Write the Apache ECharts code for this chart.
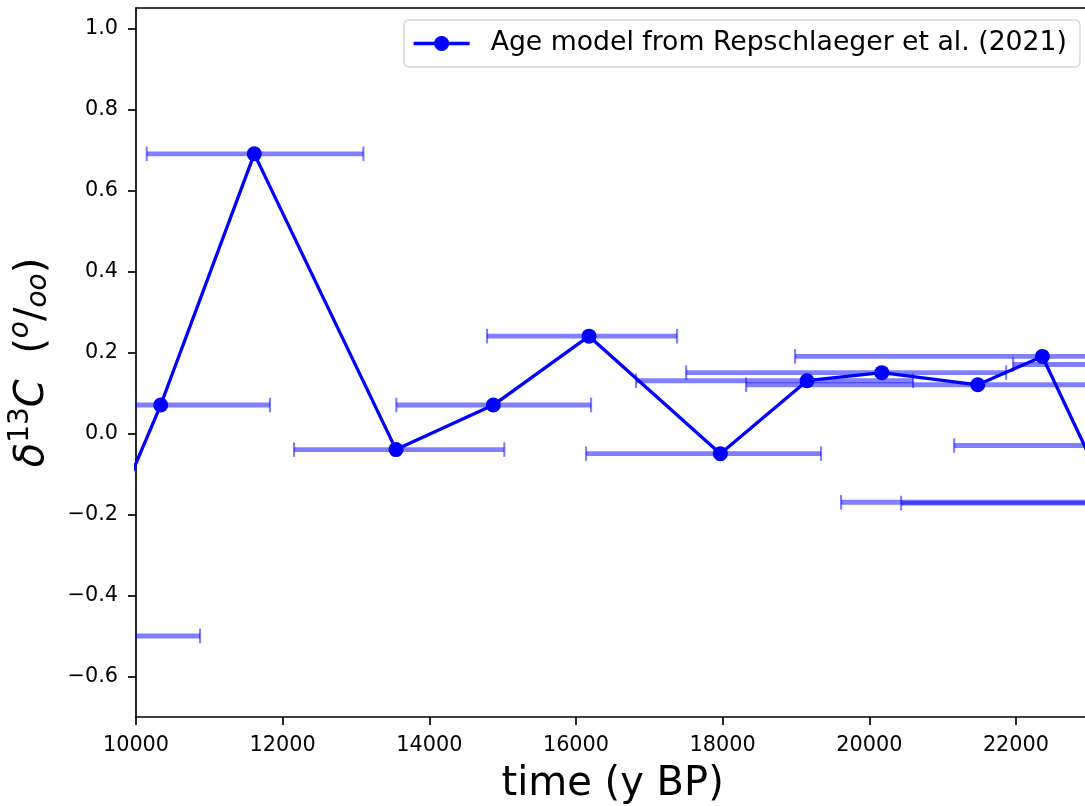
<!DOCTYPE html>
<html>
<head>
<meta charset="utf-8">
<script src="https://cdn.jsdelivr.net/npm/echarts@6/dist/echarts.min.js"></script>
<style>
html,body{margin:0;padding:0;background:#fff;}
#chart{width:1085px;height:806px;}
</style>
</head>
<body>
<div id="chart"></div>
<script>
// ---- data ----
const seriesName = 'Age model from Repschlaeger et al. (2021)';
const ageYears = [9000, 10337, 11613, 13546, 14873, 16178, 17969, 19151, 20170, 21479, 22360, 23300];
const d13C     = [-0.50, 0.07, 0.69, -0.04, 0.07, 0.24, -0.05, 0.13, 0.15, 0.12, 0.19, -0.17];

// horizontal error bars (age uncertainty): level, lower age, upper age
const errLevel = [-0.50, 0.07, 0.69, -0.04, 0.07, 0.24, -0.05, 0.13, 0.15, 0.12, 0.19, 0.17, -0.03, -0.170, -0.172];
const errLow   = [7870, 8830, 10146, 12155, 13550, 14787, 16137, 16819, 17501, 18320, 18988, 21961, 21157, 19615, 20434];
const errHigh  = [10873, 11827, 13101, 15023, 16206, 17378, 19342, 20597, 21866, 24600, 25700, 25100, 24300, 23400, 25000];

const xTicks = [10000, 12000, 14000, 16000, 18000, 20000, 22000];
const yTicks = [-0.6, -0.4, -0.2, 0.0, 0.2, 0.4, 0.6, 0.8, 1.0];

const xMin = 10000, xMax = 23000;
const yMin = -0.7, yMax = 1.05;

// ---- build ----
const FONT = 'DejaVu Sans';
const lineData = ageYears.map((x, i) => [x, d13C[i]]);
const errData = errLevel.map((y, i) => [errLow[i], errHigh[i], y]);
const errColor = 'rgba(0,0,255,0.5)';

const chart = echarts.init(document.getElementById('chart'), null, {renderer: 'canvas'});

const option = {
  animation: false,
  backgroundColor: '#ffffff',
  grid: {left: 136, top: 8, width: 953.3, height: 709, containLabel: false, outerBoundsMode: 'none'},
  legend: {
    data: [seriesName],
    left: 404, top: 20,
    itemWidth: 56, itemHeight: 19,
    padding: [10, 13, 10, 8],
    borderColor: '#d6d6d6', borderWidth: 1.5, borderRadius: 5,
    backgroundColor: 'rgba(255,255,255,0.8)',
    lineStyle: {width: 3.3, color: '#0000ff'},
    textStyle: {fontSize: 26.7, color: '#000', fontFamily: FONT, padding: [0, 0, 0, 16]}
  },
  xAxis: [{
    type: 'value', min: xMin, max: xMax, position: 'bottom',
    axisLine: {show: true, onZero: false, lineStyle: {color: '#000', width: 1.7}},
    axisTick: {show: true, length: 8, lineStyle: {color: '#000', width: 1.7}, customValues: xTicks},
    axisLabel: {customValues: xTicks, fontSize: 20.8, color: '#000', fontFamily: FONT, margin: 18,
                formatter: v => String(v)},
    splitLine: {show: false},
    name: 'time (y BP)', nameLocation: 'middle', nameGap: 48,
    nameTextStyle: {fontSize: 40, lineHeight: 40, color: '#000', fontFamily: FONT}
  }, {
    type: 'value', min: xMin, max: xMax, position: 'top',
    axisLine: {show: true, onZero: false, lineStyle: {color: '#000', width: 1.7}},
    axisTick: {show: false}, axisLabel: {show: false}, splitLine: {show: false}
  }],
  yAxis: {
    type: 'value', min: yMin, max: yMax,
    axisLine: {show: true, onZero: false, lineStyle: {color: '#000', width: 1.7}},
    axisTick: {show: true, length: 8, lineStyle: {color: '#000', width: 1.7}, customValues: yTicks},
    axisLabel: {customValues: yTicks, fontSize: 20.8, color: '#000', fontFamily: FONT, margin: 18,
                formatter: v => v.toFixed(1).replace('-', '\u2212')},
    splitLine: {show: false},
    name: '{i|δ}{sup|13}{i|C}{n|  (}{so|o}{n|/}{sub|oo}{n|)}',
    nameLocation: 'middle', nameRotate: 90, nameGap: 75,
    nameTextStyle: {
      fontSize: 40, color: '#000', fontFamily: FONT,
      rich: {
        i:   {fontSize: 40, fontStyle: 'italic', fontFamily: FONT, color: '#000', lineHeight: 56, verticalAlign: 'middle'},
        n:   {fontSize: 40, fontFamily: FONT, color: '#000', lineHeight: 56, verticalAlign: 'middle'},
        sup: {fontSize: 28, fontFamily: FONT, color: '#000', verticalAlign: 'middle', padding: [0, 0, 24, 0]},
        so:  {fontSize: 28, fontStyle: 'italic', fontFamily: FONT, color: '#000', verticalAlign: 'middle', padding: [0, 0, 24, 0]},
        sub: {fontSize: 28, fontStyle: 'italic', fontFamily: FONT, color: '#000', verticalAlign: 'middle', padding: [12, 0, 0, 0]}
      }
    }
  },
  series: [{
    type: 'custom',
    name: 'age uncertainty',
    xAxisIndex: 0, yAxisIndex: 0,
    clip: true, z: 1,
    encode: {x: [0, 1], y: 2},
    data: errData,
    renderItem: function (params, api) {
      const y = api.value(2);
      const p0 = api.coord([api.value(0), y]);
      const p1 = api.coord([api.value(1), y]);
      const capH = 7.3;
      return {
        type: 'group',
        children: [
          {type: 'line', shape: {x1: p0[0], y1: p0[1], x2: p1[0], y2: p1[1]},
           style: {stroke: errColor, lineWidth: 4.9}},
          {type: 'line', shape: {x1: p0[0], y1: p0[1] - capH, x2: p0[0], y2: p0[1] + capH},
           style: {stroke: errColor, lineWidth: 2.1}},
          {type: 'line', shape: {x1: p1[0], y1: p1[1] - capH, x2: p1[0], y2: p1[1] + capH},
           style: {stroke: errColor, lineWidth: 2.1}}
        ]
      };
    }
  }, {
    type: 'line',
    name: seriesName,
    xAxisIndex: 0, yAxisIndex: 0,
    data: lineData,
    clip: true, z: 5,
    symbol: 'circle', symbolSize: 15, showAllSymbol: true,
    lineStyle: {color: '#0000ff', width: 3.3},
    itemStyle: {color: '#0000ff'},
    emphasis: {disabled: true}
  }]
};
chart.setOption(option);
</script>
</body>
</html>
